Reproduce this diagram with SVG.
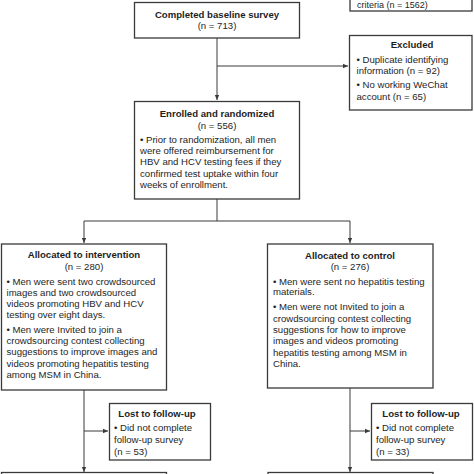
<svg xmlns="http://www.w3.org/2000/svg" width="474" height="474" viewBox="0 0 474 474">
<defs>
<style>
.box{fill:#fff;stroke:#3a3a3a;stroke-width:1.3}
.ln{fill:none;stroke:#3a3a3a;stroke-width:1}
text{font-family:"Liberation Sans",Arial,sans-serif;font-size:9.6px;fill:#1e1e1e}
.t{font-weight:bold;text-anchor:middle}
.c{text-anchor:middle}
</style>
<marker id="ah" markerWidth="6" markerHeight="6" refX="5" refY="3" orient="auto" markerUnits="userSpaceOnUse">
<path d="M0,0.8 L5,3 L0,5.2 Z" fill="#3a3a3a"/>
</marker>
</defs>
<rect width="474" height="474" fill="#fff"/>
<g id="connectors">
<path class="ln" d="M217,38 V100" marker-end="url(#ah)"/>
<path class="ln" d="M217,66 H348" marker-end="url(#ah)"/>
<path class="ln" d="M217,199 V221 M84,221 H350"/>
<path class="ln" d="M84,221 V243" marker-end="url(#ah)"/>
<path class="ln" d="M350,221 V243" marker-end="url(#ah)"/>
<path class="ln" d="M84,390 V472" marker-end="url(#ah)"/>
<path class="ln" d="M84,431 H108" marker-end="url(#ah)"/>
<path class="ln" d="M350,388 V472" marker-end="url(#ah)"/>
<path class="ln" d="M350,431 H370" marker-end="url(#ah)"/>
</g>
<g id="eligibility">
<rect class="box" x="350" y="-20" width="122" height="31"/>
<text x="357" y="8" style="font-size:9px">criteria (n = 1562)</text>
</g>
<g id="completed">
<rect class="box" x="134.5" y="2.5" width="165" height="35.5"/>
<text class="t" x="217" y="17.5">Completed baseline survey</text>
<text class="c" x="217" y="28.5">(n = 713)</text>
</g>
<g id="excluded">
<rect class="box" x="349.5" y="35.5" width="122.5" height="74.5"/>
<text class="t" x="412" y="48">Excluded</text>
<text x="356.5" y="63">• Duplicate identifying</text>
<text x="356.5" y="74.3">information (n = 92)</text>
<text x="356.5" y="88">• No working WeChat</text>
<text x="356.5" y="99.6">account (n = 65)</text>
</g>
<g id="enrolled">
<rect class="box" x="134.5" y="101.5" width="165" height="97.5"/>
<text class="t" x="217" y="117">Enrolled and randomized</text>
<text class="c" x="217" y="128.5">(n = 556)</text>
<text x="140" y="142.5">• Prior to randomization, all men</text>
<text x="140" y="153.8">were offered reimbursement for</text>
<text x="140" y="165.3">HBV and HCV testing fees if they</text>
<text x="140" y="176.6">confirmed test uptake within four</text>
<text x="140" y="188">weeks of enrollment.</text>
</g>
<g id="intervention">
<rect class="box" x="1.5" y="244" width="165" height="146"/>
<text class="t" x="84" y="258.2">Allocated to intervention</text>
<text class="c" x="84" y="270.2">(n = 280)</text>
<text x="6.5" y="284.5">• Men were sent two crowdsourced</text>
<text x="6.5" y="295.8">images and two crowdsourced</text>
<text x="6.5" y="307">videos promoting HBV and HCV</text>
<text x="6.5" y="318.3">testing over eight days.</text>
<text x="6.5" y="332.6">• Men were Invited to join a</text>
<text x="6.5" y="343.9">crowdsourcing contest collecting</text>
<text x="6.5" y="355.2">suggestions to improve images and</text>
<text x="6.5" y="366.5">videos promoting hepatitis testing</text>
<text x="6.5" y="377.8">among MSM in China.</text>
</g>
<g id="control">
<rect class="box" x="267.5" y="244" width="165.5" height="144"/>
<text class="t" x="350" y="258.5">Allocated to control</text>
<text class="c" x="350" y="270.2">(n = 276)</text>
<text x="273" y="284.5">• Men were sent no hepatitis testing</text>
<text x="273" y="295.2">materials.</text>
<text x="273" y="309.8">• Men were not Invited to join a</text>
<text x="273" y="321.6">crowdsourcing contest collecting</text>
<text x="273" y="333">suggestions for how to improve</text>
<text x="273" y="344.3">images and videos promoting</text>
<text x="273" y="355.6">hepatitis testing among MSM in</text>
<text x="273" y="367">China.</text>
</g>
<g id="lost-intervention">
<rect class="box" x="109.5" y="403.5" width="101" height="56.5"/>
<text class="t" x="157" y="417">Lost to follow-up</text>
<text x="114" y="431.2">• Did not complete</text>
<text x="114" y="442.8">follow-up survey</text>
<text x="114" y="454.5">(n = 53)</text>
</g>
<g id="lost-control">
<rect class="box" x="371.5" y="403.5" width="101" height="56.5"/>
<text class="t" x="421" y="417">Lost to follow-up</text>
<text x="376" y="431.2">• Did not complete</text>
<text x="376" y="442.8">follow-up survey</text>
<text x="376" y="454.5">(n = 33)</text>
</g>
<g id="analyzed-intervention">
<rect class="box" x="1.5" y="472.5" width="165" height="20"/>
</g>
<g id="analyzed-control">
<rect class="box" x="268" y="472.5" width="165" height="20"/>
</g>
</svg>
